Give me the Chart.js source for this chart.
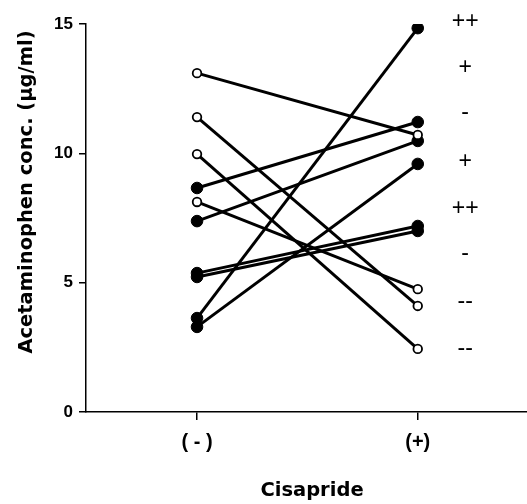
<!DOCTYPE html>
<html>
<head>
<meta charset="utf-8">
<script src="https://cdn.jsdelivr.net/npm/chart.js@4"></script>
<style>
  html, body { margin: 0; padding: 0; background: #fff; }
</style>
</head>
<body>
<canvas id="chart" width="527" height="504"></canvas>
<script>
// x axis tick labels
const groupLabels = ["( - )", "(+)"];
// acetaminophen conc. for each subject, without / with cisapride
const withoutCis = [13.1, 11.4, 9.97, 8.12, 8.66, 7.38, 5.37, 5.22, 3.63, 3.29];
const withCis = [10.71, 4.1, 2.44, 4.75, 11.21, 10.48, 7.19, 7.0, 14.84, 9.59];
// response marks on the right side and the level they sit at
const marks = ["++", "+", "-", "+", "++", "-", "--", "--"];
const markLevels = [15.08, 13.3, 11.56, 9.66, 7.85, 6.11, 4.25, 2.44];
const markX = 1.215;
const xTitle = "Cisapride";
const yTitle = "Acetaminophen conc. (µg/ml)";

const titleFont = "bold 19.5px 'DejaVu Sans', sans-serif";

// lines first, dots on top (lower order is drawn last)
const lines = withoutCis.map((v, i) => ({
  data: [{ x: 0, y: v }, { x: 1, y: withCis[i] }],
  showLine: true,
  borderColor: "#000",
  borderWidth: 3,
  pointRadius: 0,
  order: 2
}));

const dots = withoutCis.map((v, i) => {
  const down = withCis[i] < v; // falling subjects have open circles
  return {
    data: [{ x: 0, y: v }, { x: 1, y: withCis[i] }],
    showLine: false,
    pointRadius: down ? 4.3 : 5.8,
    pointBorderWidth: down ? 1.8 : 1,
    pointBackgroundColor: down ? "#fff" : "#000",
    pointBorderColor: "#000",
    order: 1
  };
});

// +/- marks and the two axis titles
const textPlugin = {
  id: "texts",
  afterDatasetsDraw(chart) {
    const { ctx, scales } = chart;
    ctx.save();
    ctx.fillStyle = "#000";
    ctx.textAlign = "center";
    ctx.textBaseline = "middle";
    ctx.font = "23px 'Liberation Sans', Arial, sans-serif";
    marks.forEach((m, i) => {
      ctx.fillText(m, scales.x.getPixelForValue(markX), scales.y.getPixelForValue(markLevels[i]));
    });
    ctx.font = titleFont;
    ctx.fillText(xTitle, 312, 491);
    ctx.translate(27, 192);
    ctx.rotate(-Math.PI / 2);
    ctx.fillText(yTitle, 0, 0);
    ctx.restore();
  }
};

new Chart(document.getElementById("chart"), {
  type: "scatter",
  data: { datasets: [...lines, ...dots] },
  plugins: [textPlugin],
  options: {
    responsive: false,
    animation: false,
    layout: { autoPadding: false, padding: { top: 24, left: 0, right: 0, bottom: 0 } },
    plugins: { legend: { display: false }, tooltip: { enabled: false } },
    scales: {
      x: {
        type: "linear",
        min: -0.503,
        max: 1.495,
        afterBuildTicks: (s) => { s.ticks = [{ value: 0 }, { value: 1 }]; },
        afterFit: (s) => {
          s.height = 92;
          s.paddingLeft = 0;
          s.paddingRight = 0;
        },
        grid: { drawOnChartArea: false, tickLength: 8, color: "#000", lineWidth: 1.5 },
        border: { color: "#000", width: 1.5 },
        ticks: {
          callback: (v) => groupLabels[v],
          color: "#000",
          font: { family: "'Liberation Sans', Arial, sans-serif", size: 20, weight: "bold" },
          padding: 10,
          maxRotation: 0
        }
      },
      y: {
        min: 0,
        max: 15,
        afterFit: (s) => { s.width = 86; },
        grid: { drawOnChartArea: false, tickLength: 7, color: "#000", lineWidth: 1.5 },
        border: { color: "#000", width: 1.5 },
        ticks: {
          stepSize: 5,
          color: "#000",
          font: { family: "'Liberation Sans', Arial, sans-serif", size: 17, weight: "bold" },
          padding: 6
        }
      }
    }
  }
});
</script>
</body>
</html>
